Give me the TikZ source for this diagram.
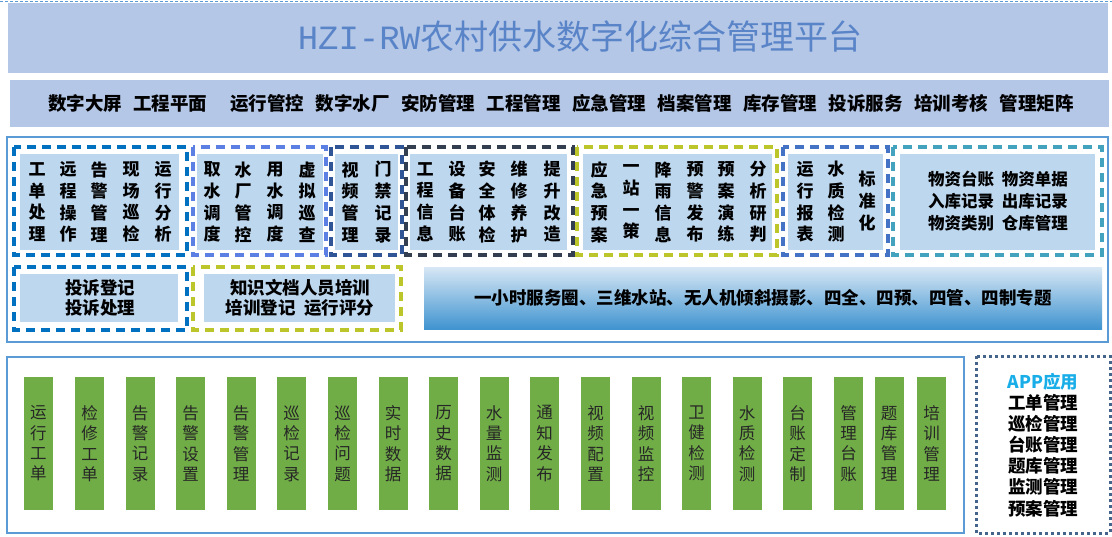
\documentclass[tikz,border=0pt]{standalone}
\usepackage{fontspec}
\setmainfont{Noto Sans CJK SC}
\newfontfamily\latinmono{Liberation Mono}
\usetikzlibrary{positioning}

\definecolor{barblue}{HTML}{B4C7E7}
\definecolor{paneblue}{HTML}{BDD7EE}
\definecolor{frameblue}{HTML}{5B9BD5}
\definecolor{dashA}{HTML}{0070C0}
\definecolor{dashB}{HTML}{5B7FE2}
\definecolor{dashC}{HTML}{2F5597}
\definecolor{dashD}{HTML}{333F50}
\definecolor{dashE}{HTML}{BCC62A}
\definecolor{dashF}{HTML}{4472C4}
\definecolor{dashG}{HTML}{43A3BE}
\definecolor{leaf}{HTML}{70AD47}
\definecolor{titleblue}{HTML}{5A84C8}
\definecolor{appcyan}{HTML}{1AAEE8}
\definecolor{dotgray}{HTML}{44648C}

\newcommand{\gp}{\hspace{11.5pt}}

\begin{document}
\begin{tikzpicture}[x=1pt,y=-1pt,
    grp/.style={line width=3.2pt,dash pattern=on 9pt off 6pt},
    pane/.style={fill=paneblue},
    cell/.style={align=center,font=\fontsize{17}{21.7}\selectfont\bfseries},
    menu/.style={align=center,font=\fontsize{17.5}{20.5}\selectfont\bfseries},
    leafbar/.style={fill=leaf,minimum width=29pt,minimum height=133pt,align=center,
      font=\fontsize{16.5}{20.4}\selectfont,text=black!85}]
    \tikzstyle{every node}+=[inner sep=0pt]
    \useasboundingbox (0,0) rectangle (1112,536);
    \draw [frameblue,line width=0.6pt,dash pattern=on 3pt off 2pt] (0,1) -- (1112,1);
    \fill [barblue] (8,3) rectangle (1108,73);
    \node [text=titleblue,font=\fontsize{34}{40}\selectfont] (title) at (580,37) {{\latinmono HZI-RW}农村供水数字化综合管理平台};
    \fill [barblue] (10,80) rectangle (1109,127);
    \node [font=\fontsize{18.5}{20}\selectfont\bfseries] (modules) at (561,103.5)
      {数字大屏\gp 工程平面\gp\gp 运行管控\gp 数字水厂\gp 安防管理\gp 工程管理\gp 应急管理\gp 档案管理\gp 库存管理\gp 投诉服务\gp 培训考核\gp 管理矩阵};

    \draw [frameblue,line width=2pt] (7,137) rectangle (1108,342);
    \draw [grp,dashA] (14,147) rectangle (187,255);
    \fill [pane] (20,154) rectangle (179,250);
    \draw [grp,dashB] (193,147) rectangle (326,255);
    \fill [pane] (197,154) rectangle (323,250);
    \draw [grp,dashC] (331,147) rectangle (402,255);
    \fill [pane] (335,154) rectangle (398,250);
    \draw [grp,dashD] (406,147) rectangle (573,255);
    \fill [pane] (410,154) rectangle (567,250);
    \draw [grp,dashE] (577,147) rectangle (777,255);
    \fill [pane] (583,154) rectangle (772,250);
    \draw [grp,dashF] (783,147) rectangle (888,255);
    \fill [pane] (788,154) rectangle (883,250);
    \draw [grp,dashG] (893,147) rectangle (1102,255);
    \fill [pane] (900,154) rectangle (1095,250);
    \draw [grp,dashA] (14,267) rectangle (187,330);
    \fill [pane] (20,274) rectangle (178,322);
    \draw [grp,dashE] (193,267) rectangle (401,330);
    \fill [pane] (204,274) rectangle (395,322);

    \foreach \x/\t [count=\i] in {37/工\\单\\处\\理, 68/远\\程\\操\\作, 99/告\\警\\管\\理,
        131/现\\场\\巡\\检, 163/运\\行\\分\\析}
      \node [cell] (ops\i) at (\x,202) {\t};
    \foreach \x/\t [count=\i] in {212/取\\水\\调\\度, 243/水\\厂\\管\\控, 275/用\\水\\调\\度,
        307/虚\\拟\\巡\\查}
      \node [cell] (plant\i) at (\x,202) {\t};
    \foreach \x/\t [count=\i] in {350/视\\频\\管\\理, 383/门\\禁\\记\\录}
      \node [cell] (guard\i) at (\x,202) {\t};
    \foreach \x/\t [count=\i] in {425/工\\程\\信\\息, 457/设\\备\\台\\账, 487/安\\全\\体\\检,
        519/维\\修\\养\\护, 552/提\\升\\改\\造}
      \node [cell] (proj\i) at (\x,202) {\t};
    \foreach \x/\t [count=\i] in {599/应\\急\\预\\案, 631/一\\站\\一\\策, 663/降\\雨\\信\\息,
        695/预\\警\\发\\布, 726/预\\案\\演\\练, 758/分\\析\\研\\判}
      \node [cell] (emerg\i) at (\x,202) {\t};
    \foreach \x/\t [count=\i] in {805/运\\行\\报\\表, 836/水\\质\\检\\测}
      \node [cell] (arch\i) at (\x,202) {\t};
    \node [cell] (arch3) at (867,201) {标\\准\\化};
    \node [cell,font=\fontsize{16.5}{22}\selectfont\bfseries] (store) at (998,201)
      {物资台账\hspace{8pt}物资单据\\入库记录\hspace{8pt}出库记录\\物资类别\hspace{8pt}仓库管理};
    \node [menu] (complain) at (100,298) {投诉登记\\投诉处理};
    \node [menu] (train) at (300,298) {知识文档人员培训\\培训登记\hspace{9pt}运行评分};
    \node [top color=paneblue!60!white,middle color=frameblue!75,bottom color=dashA!75,
      minimum width=678pt,minimum height=62pt,font=\fontsize{17.5}{20}\selectfont\bfseries]
      (topic) at (763,298) {一小时服务圈、三维水站、无人机倾斜摄影、四全、四预、四管、四制专题};

    \draw [frameblue,line width=2pt] (7,357) rectangle (964,533);
    \foreach \x/\t [count=\i] in {38.5/运\\行\\工\\单, 89.5/检\\修\\工\\单, 140/告\\警\\记\\录,
        190.5/告\\警\\设\\置, 241/告\\警\\管\\理, 291.5/巡\\检\\记\\录, 342.5/巡\\检\\问\\题,
        393/实\\时\\数\\据, 443.5/历\\史\\数\\据, 494/水\\量\\监\\测, 544.5/通\\知\\发\\布,
        595.5/视\\频\\配\\置, 646/视\\频\\监\\控, 696.5/卫\\健\\检\\测, 747/水\\质\\检\\测,
        797.5/台\\账\\定\\制, 848.5/管\\理\\台\\账, 889/题\\库\\管\\理, 931.5/培\\训\\管\\理}
      \node [leafbar] (func\i) at (\x,443.5) {\t};

    \draw [dotgray,line width=3pt,dash pattern=on 3pt off 3pt] (976,356) rectangle (1110,533);
    \node [align=center,font=\fontsize{17.5}{21.1}\selectfont\bfseries] (app) at (1043,445)
      {{\color{appcyan}APP应用}\\工单管理\\巡检管理\\台账管理\\题库管理\\监测管理\\预案管理};
\end{tikzpicture}
\end{document}
